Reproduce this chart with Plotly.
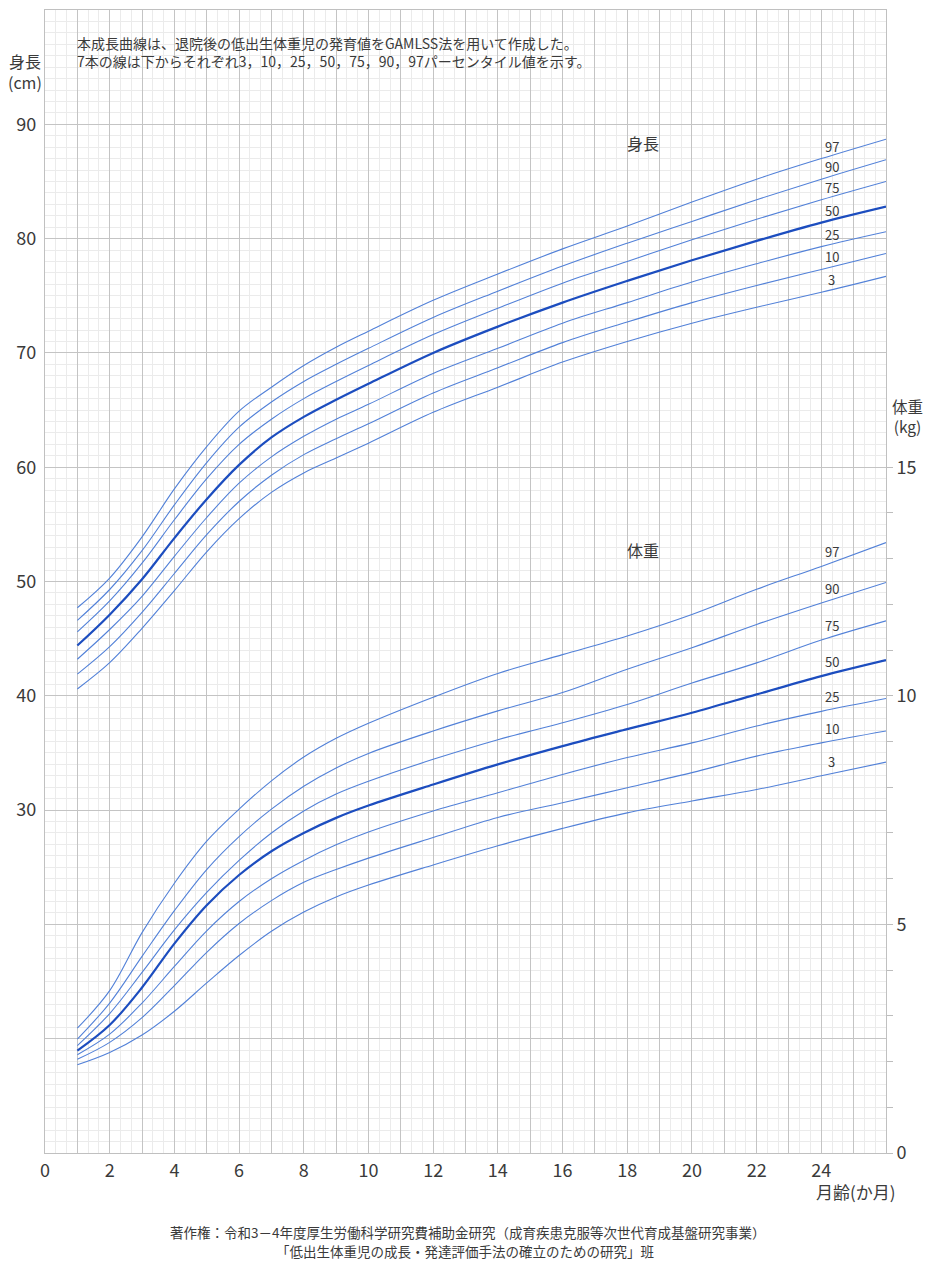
import plotly.graph_objects as go

# ---------------- data ----------------
months = [1, 2, 3, 4, 5, 6, 7, 8, 9, 10, 12, 14, 16, 18, 20, 22, 24, 26]
percentiles = ["97", "90", "75", "50", "25", "10", "3"]

# length (cm)
len_p97 = [47.7, 50.3, 53.9, 58.1, 61.8, 64.9, 67.0, 68.9, 70.5, 71.9, 74.6, 76.9, 79.1, 81.1, 83.2, 85.2, 87.0, 88.7]
len_p90 = [46.6, 49.3, 52.7, 56.7, 60.4, 63.5, 65.7, 67.5, 69.0, 70.4, 73.1, 75.4, 77.6, 79.6, 81.5, 83.4, 85.2, 86.9]
len_p75 = [45.6, 48.3, 51.6, 55.4, 59.0, 62.0, 64.2, 66.0, 67.5, 68.9, 71.6, 73.9, 76.1, 78.0, 79.9, 81.7, 83.4, 85.0]
len_p50 = [44.4, 47.1, 50.2, 53.8, 57.2, 60.2, 62.6, 64.4, 65.9, 67.3, 70.0, 72.3, 74.4, 76.3, 78.1, 79.8, 81.4, 82.8]
len_p25 = [43.2, 45.8, 48.7, 52.2, 55.6, 58.6, 60.9, 62.7, 64.2, 65.5, 68.2, 70.4, 72.6, 74.4, 76.2, 77.8, 79.3, 80.6]
len_p10 = [41.9, 44.3, 47.3, 50.7, 54.1, 57.0, 59.3, 61.1, 62.5, 63.8, 66.5, 68.7, 70.9, 72.7, 74.4, 75.9, 77.3, 78.7]
len_p3 = [40.6, 42.9, 45.9, 49.2, 52.6, 55.5, 57.8, 59.5, 60.8, 62.1, 64.8, 67.0, 69.2, 71.0, 72.6, 74.0, 75.3, 76.7]

# weight (kg)
wt_p97 = [2.73, 3.55, 4.82, 5.90, 6.82, 7.52, 8.14, 8.66, 9.07, 9.40, 9.97, 10.49, 10.90, 11.31, 11.78, 12.33, 12.83, 13.35]
wt_p90 = [2.49, 3.28, 4.30, 5.30, 6.20, 6.92, 7.52, 8.02, 8.42, 8.74, 9.23, 9.67, 10.07, 10.58, 11.05, 11.56, 12.03, 12.48]
wt_p75 = [2.35, 3.05, 3.95, 4.88, 5.70, 6.40, 7.00, 7.48, 7.85, 8.13, 8.61, 9.04, 9.41, 9.81, 10.28, 10.72, 11.22, 11.64]
wt_p50 = [2.24, 2.80, 3.62, 4.58, 5.42, 6.08, 6.60, 7.00, 7.33, 7.60, 8.06, 8.50, 8.90, 9.27, 9.63, 10.03, 10.43, 10.78]
wt_p25 = [2.15, 2.60, 3.28, 4.08, 4.86, 5.50, 6.00, 6.40, 6.74, 7.02, 7.48, 7.88, 8.28, 8.65, 8.97, 9.34, 9.66, 9.94]
wt_p10 = [2.05, 2.42, 2.96, 3.66, 4.39, 5.02, 5.52, 5.92, 6.20, 6.45, 6.90, 7.34, 7.66, 7.99, 8.32, 8.68, 8.97, 9.23]
wt_p3 = [1.93, 2.20, 2.58, 3.10, 3.72, 4.32, 4.85, 5.27, 5.60, 5.86, 6.30, 6.72, 7.10, 7.44, 7.70, 7.95, 8.25, 8.55]

x_ticks = list(range(0, 27))
x_ticktext = [str(m) if (m % 2 == 0 and m <= 24) else "" for m in x_ticks]
cm_ticks = list(range(0, 101, 10))
cm_ticktext = [str(v) if 30 <= v <= 90 else "" for v in cm_ticks]
kg_ticks = list(range(0, 16))
kg_ticktext = [str(v) if v % 5 == 0 else "" for v in kg_ticks]

note_lines = [
    "本成長曲線は、退院後の低出生体重児の発育値をGAMLSS法を用いて作成した。",
    "7本の線は下からそれぞれ3，10，25，50，75，90，97パーセンタイル値を示す。",
]
footer_lines = [
    "著作権：令和3－4年度厚生労働科学研究費補助金研究（成育疾患克服等次世代育成基盤研究事業）",
    "「低出生体重児の成長・発達評価手法の確立のための研究」班",
]

# ---------------- figure ----------------
LINE = "#5281d8"
MED = "#1c4dbf"
FONT = "Noto Sans CJK JP"
TXT = "#3a3a3a"

length_sets = [len_p97, len_p90, len_p75, len_p50, len_p25, len_p10, len_p3]
weight_sets = [wt_p97, wt_p90, wt_p75, wt_p50, wt_p25, wt_p10, wt_p3]

fig = go.Figure()
for axis, sets in (("y", length_sets), ("y2", weight_sets)):
    for p, vals in zip(percentiles, sets):
        fig.add_trace(go.Scatter(
            x=months, y=vals, mode="lines", yaxis=axis,
            line=dict(color=MED if p == "50" else LINE, width=2.2 if p == "50" else 1.1,
                      shape="spline", smoothing=1.0),
            hoverinfo="skip"))

annotations = []
lab_x = 24.33
i24 = months.index(24)
for p, vals in zip(percentiles, length_sets):
    annotations.append(dict(x=lab_x, y=vals[i24], xref="x", yref="y", text=p,
                            showarrow=False, xanchor="center", yanchor="bottom", yshift=1,
                            font=dict(family=FONT, size=13, color=TXT)))
for p, vals in zip(percentiles, weight_sets):
    annotations.append(dict(x=lab_x, y=vals[i24], xref="x", yref="y2", text=p,
                            showarrow=False, xanchor="center", yanchor="bottom", yshift=3,
                            font=dict(family=FONT, size=13, color=TXT)))


def pann(x, y, text, size, **kw):
    d = dict(x=x, y=y, xref="paper", yref="paper", text=text, showarrow=False,
             xanchor="center", yanchor="middle", font=dict(family=FONT, size=size, color=TXT))
    d.update(kw)
    return d


annotations += [
    dict(x=18.5, y=88.4, xref="x", yref="y", text="身長", showarrow=False,
         xanchor="center", yanchor="middle", font=dict(family=FONT, size=16, color=TXT)),
    dict(x=18.5, y=13.2, xref="x", yref="y2", text="体重", showarrow=False,
         xanchor="center", yanchor="middle", font=dict(family=FONT, size=16, color=TXT)),
    dict(x=0.93, y=97.1, xref="x", yref="y", text=note_lines[0], showarrow=False,
         xanchor="left", yanchor="middle", font=dict(family=FONT, size=14, color=TXT)),
    dict(x=0.93, y=95.5, xref="x", yref="y", text=note_lines[1], showarrow=False,
         xanchor="left", yanchor="middle", font=dict(family=FONT, size=14, color=TXT)),
    pann(-0.0238, 0.9466, "身長<br>(cm)", 16),
    pann(1.0250, 0.6450, "体重<br>(kg)", 15.5),
    pann(0.9643, -0.0341, "月齢(か月)", 17),
    pann(0.5018, -0.0691, footer_lines[0], 13.5),
    pann(0.4995, -0.0857, footer_lines[1], 13.5),
]

# the page body adds an 8 px margin on every side, so the figure is
# shrunk to fit the 932x1271 window and its left/top margins reduced.
fig.update_layout(
    width=916, height=1255,
    margin=dict(l=37, r=38, t=2, b=110, autoexpand=False),
    plot_bgcolor="white", paper_bgcolor="white",
    showlegend=False,
    annotations=annotations,
    xaxis=dict(
        range=[0, 26], tickmode="array", tickvals=x_ticks, ticktext=x_ticktext,
        showgrid=True, gridcolor="#c4c4c4", gridwidth=1.3,
        minor=dict(tickmode="linear", tick0=0, dtick=1 / 3, showgrid=True,
                   gridcolor="#ebebeb", gridwidth=1),
        ticks="", zeroline=False, showline=True, linecolor="#c0c0c0", linewidth=1.3,
        mirror=True, tickfont=dict(family=FONT, size=18, color=TXT),
        ticklabelstandoff=1, automargin=False,
    ),
    yaxis=dict(
        range=[0, 100], tickmode="array", tickvals=cm_ticks, ticktext=cm_ticktext,
        showgrid=True, gridcolor="#c4c4c4", gridwidth=1.3,
        minor=dict(tickmode="linear", tick0=0, dtick=1, showgrid=True,
                   gridcolor="#ebebeb", gridwidth=1),
        ticks="", zeroline=False, showline=True, linecolor="#c0c0c0", linewidth=1.3,
        mirror=True, tickfont=dict(family=FONT, size=18, color=TXT),
        ticklabelstandoff=4, automargin=False,
    ),
    yaxis2=dict(
        range=[0, 25], overlaying="y", side="right", tickmode="array",
        tickvals=kg_ticks, ticktext=kg_ticktext, showgrid=False, zeroline=False,
        ticks="outside", ticklen=6, tickcolor="#bdbdbd", tickwidth=1,
        showline=False, tickfont=dict(family=FONT, size=18, color=TXT),
        automargin=False,
    ),
)

fig.write_html("out.html")
